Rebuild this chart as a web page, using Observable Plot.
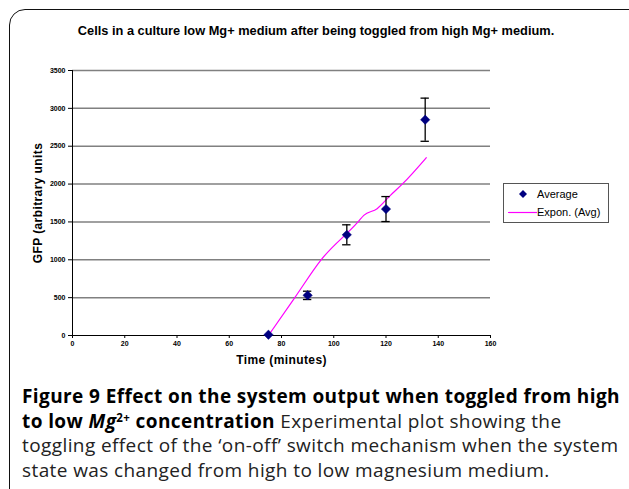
<!DOCTYPE html>
<html>
<head>
<meta charset="utf-8">
<script src="https://cdn.jsdelivr.net/npm/d3@7"></script>
<script src="https://cdn.jsdelivr.net/npm/@observablehq/plot@0.6"></script>
<style>
  html, body { margin: 0; padding: 0; background: #fff; width: 629px; height: 489px; overflow: hidden; position: relative; }
  #frame { position: absolute; left: 9px; top: 9px; width: 640px; height: 600px; border: 1.5px solid #111; border-top-left-radius: 16px; border-top-right-radius: 12px; box-sizing: border-box; }
  #title { position: absolute; left: 0; width: 632px; top: 23px; text-align: center; font: bold 12.8px "Liberation Sans", Arial, sans-serif; color: #000; white-space: nowrap; }
  #chart { position: absolute; left: 0; top: 0; }
  #legend { position: absolute; left: 503px; top: 183px; width: 106px; height: 40px; border: 1px solid #555; box-sizing: border-box; background: #fff; font: 11px "Liberation Sans", Arial, sans-serif; color: #000; }
  #legend .row { position: absolute; left: 0; height: 16px; line-height: 16px; white-space: nowrap; }
  #legend svg { position: absolute; left: 3px; top: 0; }
  #legend span { position: absolute; left: 33px; }
  #caption { position: absolute; left: 22px; top: 384px; font-family: "Open Sans", sans-serif; font-size: 19px; letter-spacing: 0.4px; line-height: 24.5px; color: #000; white-space: nowrap; }
  #caption > div { height: 24.5px; overflow: visible; }
  #caption b { font-weight: 700; }
  #caption .n { color: #222; }
  #caption .sup { font-size: 11.5px; position: relative; top: -6px; line-height: 1; }
</style>
</head>
<body>
<div id="frame"></div>
<div id="chart"></div>
<div id="title">Cells in a culture low Mg+ medium after being toggled from high Mg+ medium.</div>
<div id="legend">
  <div class="row" style="top:2px"><svg width="30" height="16"><path d="M16,4 L20,8 L16,12 L12,8 Z" fill="#000080"/></svg><span>Average</span></div>
  <div class="row" style="top:20px"><svg width="30" height="16"><line x1="1" x2="30" y1="8.5" y2="8.5" stroke="#ff00ff" stroke-width="1.2"/></svg><span>Expon. (Avg)</span></div>
</div>
<div id="caption">
  <div><b>Figure 9 Effect on the system output when toggled from high</b></div>
  <div><b>to low <i>Mg</i><span class="sup">2+</span> concentration</b> <span class="n">Experimental plot showing the</span></div>
  <div class="n">toggling effect of the ‘on-off’ switch mechanism when the system</div>
  <div class="n">state was changed from high to low magnesium medium.</div>
</div>
<script>
// Measured averages (time in minutes, GFP in arbitrary units) with error half-widths
const times = [75, 90, 105, 120, 135];
const averages = [10, 530, 1330, 1670, 2850];
const errors = [0, 55, 132, 165, 285];

// Trend line ("Expon. (Avg)") points
const trendTimes = [75, 85.1, 95, 109.3, 111.5, 116.6, 121.7, 126.4, 135.4];
const trendValues = [0, 501, 993, 1500, 1587, 1675, 1851, 2005, 2348];

const xTicks = [0, 20, 40, 60, 80, 100, 120, 140, 160];
const yTicks = [0, 500, 1000, 1500, 2000, 2500, 3000, 3500];

const points = times.map((t, i) => ({t, v: averages[i], lo: averages[i] - errors[i], hi: averages[i] + errors[i], hasErr: errors[i] > 0}));
const errPts = points.filter(d => d.hasErr);
const trend = trendTimes.map((t, i) => ({t, v: trendValues[i]}));

const tickFont = {fontSize: 7, fontWeight: "bold", fontFamily: "Liberation Sans, Arial, sans-serif"};

const chart = Plot.plot({
  width: 629,
  height: 370,
  marginLeft: 72,
  marginRight: 139,
  marginTop: 70,
  marginBottom: 35,
  style: {fontFamily: "Liberation Sans, Arial, sans-serif", background: "transparent", color: "#000"},
  x: {domain: [0, 160]},
  y: {domain: [0, 3500]},
  marks: [
    Plot.ruleY(yTicks.filter(d => d > 0), {stroke: "#808080", strokeWidth: 1.5}),
    Plot.axisY({ticks: yTicks, tickSize: 4, tickPadding: 3, tickFormat: d => String(d), ...tickFont,
      label: "GFP (arbitrary units", labelAnchor: "center", labelArrow: "none", labelOffset: 39}),
    Plot.axisX({ticks: xTicks, tickSize: 3, tickPadding: 3, tickFormat: d => String(d), ...tickFont,
      label: "Time (minutes)", labelAnchor: "center", labelArrow: "none", labelOffset: 28}),
    Plot.ruleX([0], {stroke: "#000", strokeWidth: 1}),
    Plot.ruleY([0], {stroke: "#000", strokeWidth: 1}),
    Plot.line(trend, {x: "t", y: "v", stroke: "#ff00ff", strokeWidth: 1.2, curve: "monotone-x"}),
    Plot.ruleX(errPts, {x: "t", y1: "lo", y2: "hi", stroke: "#000", strokeWidth: 1.3}),
    Plot.ruleY(errPts, {y: "hi", x1: d => d.t - 1.6, x2: d => d.t + 1.6, stroke: "#000", strokeWidth: 1.3}),
    Plot.ruleY(errPts, {y: "lo", x1: d => d.t - 1.6, x2: d => d.t + 1.6, stroke: "#000", strokeWidth: 1.3}),
    Plot.dot(points, {x: "t", y: "v", symbol: "diamond2", r: 4.2, fill: "#000080", stroke: "#000080", strokeWidth: 0.5})
  ]
});
// axis label styling
chart.querySelectorAll("g[aria-label='y-axis label'] text, g[aria-label='x-axis label'] text").forEach(t => {
  t.style.fontSize = "12px";
  t.style.fontWeight = "bold";
  t.style.letterSpacing = "0.4px";
});
document.getElementById("chart").appendChild(chart);
</script>
</body>
</html>
